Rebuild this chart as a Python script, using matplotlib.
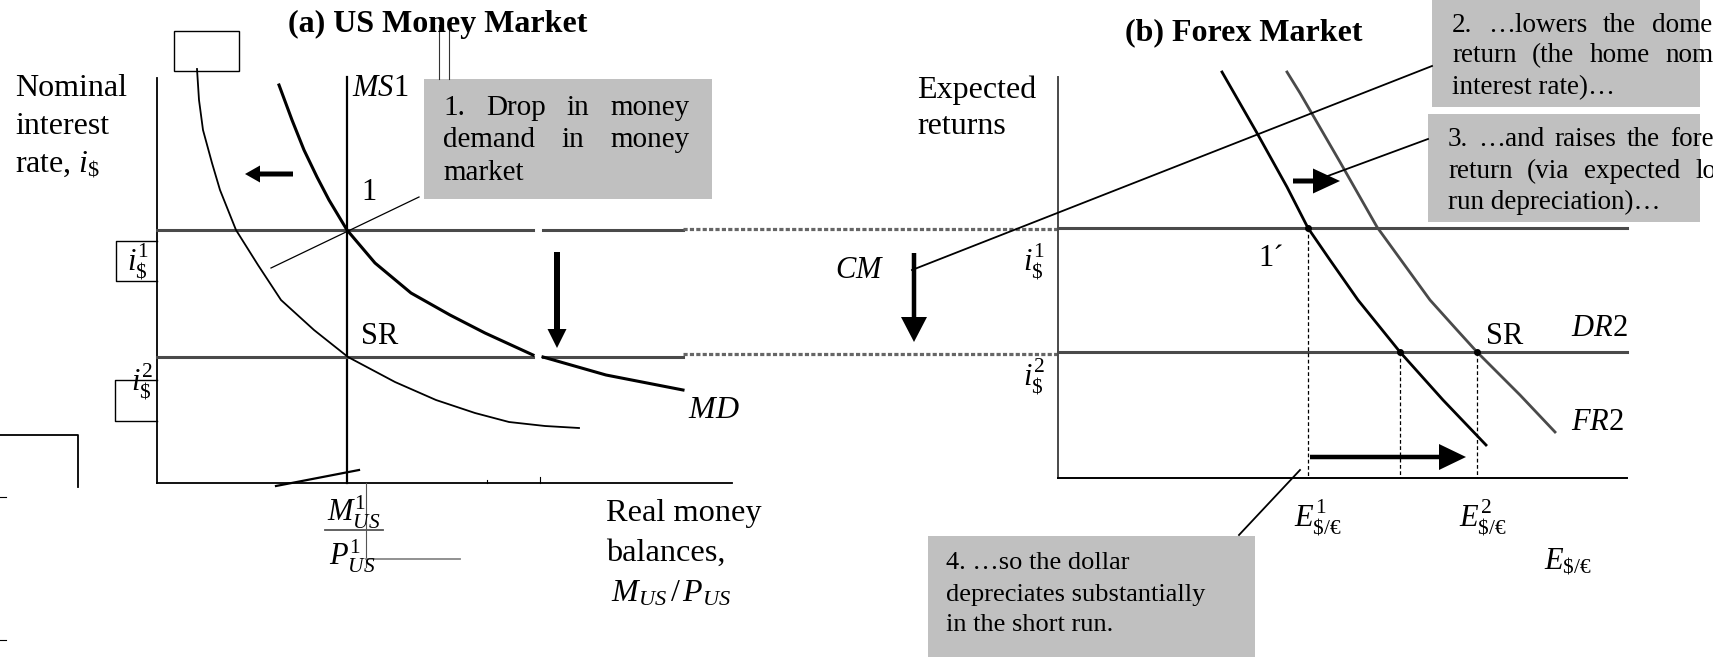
import matplotlib
matplotlib.use("Agg")
import matplotlib.pyplot as plt
from matplotlib.patches import Rectangle, FancyArrow

plt.rcParams['font.family'] = ['Liberation Serif', 'DejaVu Serif']
plt.rcParams['mathtext.fontset'] = 'custom'
plt.rcParams['mathtext.rm'] = 'Liberation Serif'
plt.rcParams['mathtext.it'] = 'Liberation Serif:italic'
plt.rcParams['mathtext.bf'] = 'Liberation Serif:bold'

# --- curve data (picture pixel coordinates, y grows downward) ---
md1_x = [279, 292, 304, 317, 329, 347, 375, 411, 450, 485, 533]
md1_y = [85, 120, 150, 177, 200, 230, 263, 293, 315, 333, 355]
md1_tail_x = [543, 606, 683]
md1_tail_y = [357, 375, 390]

md2_x = [197, 199, 203, 212, 220, 236, 258, 281, 314, 348, 395, 436, 475, 509, 545, 579]
md2_y = [69, 100, 130, 163, 190, 230, 265, 300, 330, 357, 382, 400, 413, 422, 426, 428]

fr1_x = [1222, 1257, 1287, 1308, 1330, 1358, 1400, 1443, 1486]
fr1_y = [72, 133, 187, 228, 260, 300, 352, 400, 445]

fr2_x = [1287, 1300, 1340, 1377, 1430, 1457, 1477, 1520, 1555]
fr2_y = [72, 93, 162, 227, 300, 330, 352, 395, 432]

i1_left, i2_left = 230, 357
i1_right, i2_right = 228, 352
e1_x, e_mid_x, e2_x = 1308, 1400, 1477

box1_lines = [["1.", "Drop", "in", "money"], ["demand", "in", "money"], ["market"]]
box2_lines = [["2.", "…lowers", "the", "domestic"], ["return", "(the", "home", "nominal"],
              ["interest rate)…"]]
box3_lines = [["3.", "…and", "raises", "the", "foreign"], ["return", "(via", "expected", "long"],
              ["run depreciation)…"]]
box4_lines = ["4. …so the dollar", "depreciates substantially", "in the short run."]

GREY_BOX = "#c0c0c0"
DARK = "#4a4a4a"

fig = plt.figure(figsize=(17.13, 6.57), dpi=100)
ax = fig.add_axes([0, 0, 1, 1])
ax.set_xlim(0, 1713)
ax.set_ylim(657, 0)
ax.axis("off")
renderer = fig.canvas.get_renderer()


def label(x, y, s, size=22, **kw):
    kw.setdefault("va", "center")
    kw.setdefault("ha", "left")
    return ax.text(x, y, s, fontsize=size, **kw)


def arrow(tail, tip, shaft, head_w, head_l):
    dx, dy = tip[0] - tail[0], tip[1] - tail[1]
    ax.add_patch(FancyArrow(tail[0], tail[1], dx, dy, width=shaft, head_width=head_w,
                            head_length=head_l, length_includes_head=True,
                            color="black", lw=0, zorder=3))


def grey_box(x0, y0, x1, y1):
    r = Rectangle((x0, y0), x1 - x0, y1 - y0, facecolor=GREY_BOX, edgecolor="none", zorder=1)
    ax.add_patch(r)
    return r


def justified(words, y, left, size, right=None, last_x=None, clip=None):
    # spread the words of one line so it fills the line, like the word processor did
    texts = [label(left, y, w, size=size, zorder=2) for w in words]
    widths = [t.get_window_extent(renderer).width for t in texts]
    if len(words) > 1:
        if last_x is None:
            last_x = right - widths[-1]
        gap = (last_x - left - sum(widths[:-1])) / (len(words) - 1)
        x = left
        for t, w in zip(texts, widths):
            t.set_x(x)
            x += w + gap
    if clip is not None:
        for t in texts:
            t.set_clip_path(clip)


# ---------------- (a) US money market ----------------
label(438, 24, "(a) US Money Market", size=23, ha="center", fontweight="bold")
ax.plot([439, 439], [25, 79], color="#333333", lw=0.8)
ax.plot([449, 449], [25, 79], color="#333333", lw=0.8)
ax.add_patch(Rectangle((174, 31), 65, 40, fill=False, edgecolor="black", lw=1))

label(15, 88, "Nominal", size=23)
label(15, 127, "interest", size=23)
label(15, 164, "rate, $i_{\\$}$", size=23)

ax.plot([157, 157], [78, 483], color="black", lw=1.3)
ax.plot([157, 732], [483, 483], color="black", lw=1.3)
ax.plot([487, 487], [480, 483], color="black", lw=0.8)
ax.plot([540, 540], [477, 483], color="black", lw=0.8)
ax.plot([347, 347], [77, 483], color="black", lw=1.6)

ax.plot([157, 533], [i1_left, i1_left], color=DARK, lw=2.2)
ax.plot([543, 683], [i1_left, i1_left], color=DARK, lw=2.2)
ax.plot([157, 533], [i2_left, i2_left], color=DARK, lw=2.2)
ax.plot([543, 683], [i2_left, i2_left], color=DARK, lw=2.2)

ax.plot(md1_x, md1_y, color="black", lw=2.2)
ax.plot(md1_tail_x, md1_tail_y, color="black", lw=2.2)
ax.plot(md2_x, md2_y, color="black", lw=1.3)

ax.plot([419, 271], [197, 268], color="black", lw=0.9)

label(352, 88, "$MS$1", size=22)
label(361, 193, "1", size=22)
label(361, 337, "SR", size=22)
label(688, 410, "$MD$", size=23)

# i$ boxes
ax.plot([157, 116, 116, 157], [241, 241, 281, 281], color="black", lw=1)
label(138, 262, "$i_{\\$}^{1}$", size=22, ha="center")
ax.plot([157, 115, 115, 157], [380, 380, 421, 421], color="black", lw=1)
label(142, 382, "$i_{\\$}^{2}$", size=22, ha="center")

arrow((293, 174), (245, 174), shaft=5, head_w=17, head_l=15)
arrow((557, 252), (557, 348), shaft=6, head_w=19, head_l=19)

# stray pieces at the bottom left
ax.plot([0, 78, 78], [435, 435, 487], color="black", lw=1.3)
ax.plot([0, 6], [497, 497], color="black", lw=0.8)
ax.plot([0, 6], [640, 640], color="black", lw=0.8)
ax.plot([276, 359], [486, 470], color="black", lw=1.6)

# M/P fraction
label(354, 512, "$M_{US}^{1}$", size=22, ha="center")
ax.plot([325, 383], [530, 530], color="#555555", lw=1.3)
label(352, 556, "$P_{US}^{1}$", size=22, ha="center")
ax.plot([366, 366], [483, 567], color="#555555", lw=0.8)
ax.plot([366, 460], [559, 559], color="#888888", lw=1.3)

label(606, 513, "Real money", size=23.3)
label(606, 553, "balances,", size=23.3)
label(611, 594, "$M_{US}\\,/\\,P_{US}$", size=23)

# 1. box
grey_box(424, 79, 712, 199)
for words, y in zip(box1_lines, [108, 140, 173]):
    justified(words, y, 443, 21, right=690)

# dotted links between panels
ax.plot([683, 1058], [229, 229], color="#666666", lw=2.3, linestyle=(0, (1.3, 0.7)))
ax.plot([683, 1058], [354, 354], color="#666666", lw=2.3, linestyle=(0, (1.3, 0.7)))

# ---------------- (b) Forex market ----------------
label(1244, 33, "(b) Forex Market", size=23, ha="center", fontweight="bold")
label(917, 90, "Expected", size=23)
label(917, 127, "returns", size=23)

ax.plot([1058, 1058], [77, 478], color=DARK, lw=1.4)
ax.plot([1058, 1627], [478, 478], color="black", lw=1.4)
ax.plot([1058, 1627], [i1_right, i1_right], color=DARK, lw=2.2)
ax.plot([1058, 1627], [i2_right, i2_right], color=DARK, lw=2.2)

ax.plot([e1_x, e1_x], [i1_right, 478], color="black", lw=0.9, linestyle=(0, (3, 2)))
ax.plot([e_mid_x, e_mid_x], [i2_right, 478], color="black", lw=0.9, linestyle=(0, (3, 2)))
ax.plot([e2_x, e2_x], [i2_right, 478], color="black", lw=0.9, linestyle=(0, (3, 2)))

ax.plot(fr1_x, fr1_y, color="black", lw=2.0)
ax.plot(fr2_x, fr2_y, color=DARK, lw=2.0)
ax.plot([e1_x, e_mid_x, e2_x], [i1_right, i2_right, i2_right], "o", color="black", ms=4)

label(1023, 262, "$i_{\\$}^{1}$", size=22)
label(1023, 377, "$i_{\\$}^{2}$", size=22)
label(1258, 258, "1´", size=22)
label(1486, 337, "SR", size=22)
label(1571, 328, "$DR2$", size=22)
label(1571, 423, "$FR2$", size=22)
label(835, 270, "$CM$", size=22)
label(1294, 518, "$E_{\\$/€}^{1}$", size=22)
label(1459, 518, "$E_{\\$/€}^{2}$", size=22)
label(1544, 562, "$E_{\\$/€}$", size=22)

arrow((914, 253), (914, 342), shaft=4.5, head_w=26, head_l=25)
arrow((1293, 181), (1340, 181), shaft=5, head_w=25, head_l=27)
arrow((1310, 457), (1466, 457), shaft=4.5, head_w=26, head_l=27)

ax.plot([1432, 912], [66, 270], color="black", lw=1.3)
ax.plot([1428, 1325], [139, 177], color="black", lw=1.3)
ax.plot([1239, 1300], [535, 470], color="black", lw=1.3)

# 2. and 3. boxes, cut at the right edge
b2 = grey_box(1432, 0, 1700, 107)
for words, y, last in zip(box2_lines, [25, 56, 88], [1652, 1665, None]):
    justified(words, y, 1452, 19.5, last_x=last, clip=b2)
b3 = grey_box(1428, 114, 1700, 222)
for words, y, last in zip(box3_lines, [140, 172, 202], [1670, 1695, None]):
    justified(words, y, 1448, 19.5, last_x=last, clip=b3)

# 4. box
grey_box(928, 536, 1255, 657)
for s, y in zip(box4_lines, [563, 595, 625]):
    label(946, y, s, size=19, zorder=2)

fig.savefig("out.png", dpi=100)
